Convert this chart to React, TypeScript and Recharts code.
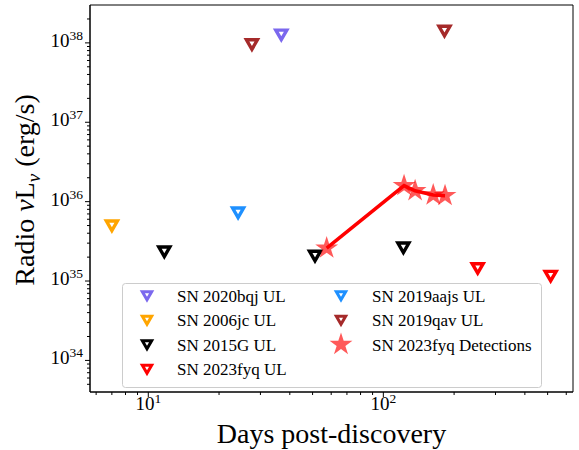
import { ScatterChart, Scatter, XAxis, YAxis, ReferenceArea, Legend } from 'recharts'

// days post-discovery / radio luminosity (erg/s)
const days2020bqj = [36.8]
const lum2020bqj = [1.27e38]
const days2006jc = [7.0]
const lum2006jc = [5.0e35]
const days2015G = [11.7, 51.2, 121.7]
const lum2015G = [2.35e35, 2.08e35, 2.64e35]
const days2023fyqUL = [252, 515]
const lum2023fyqUL = [1.45e35, 1.16e35]
const days2019aajs = [24.1]
const lum2019aajs = [7.3e35]
const days2019qav = [27.6, 182]
const lum2019qav = [9.6e37, 1.42e38]
const daysDet = [57.4, 122.5, 136.5, 163, 183]
const lumDet = [2.6e35, 1.59e36, 1.37e36, 1.21e36, 1.19e36]

const X_DOMAIN = [5.65, 641]
const Y_DOMAIN = [4.0e33, 3.0e38]

const xTicks = [6, 7, 8, 9, 10, 20, 30, 40, 50, 60, 70, 80, 90, 100, 200, 300, 400, 500, 600]
const yTicks = [
  5e33, 6e33, 7e33, 8e33, 9e33, 1e34,
  2e34, 3e34, 4e34, 5e34, 6e34, 7e34, 8e34, 9e34, 1e35,
  2e35, 3e35, 4e35, 5e35, 6e35, 7e35, 8e35, 9e35, 1e36,
  2e36, 3e36, 4e36, 5e36, 6e36, 7e36, 8e36, 9e36, 1e37,
  2e37, 3e37, 4e37, 5e37, 6e37, 7e37, 8e37, 9e37, 1e38,
  2e38,
]

const zip = (xs: number[], ys: number[]) => xs.map((x, i) => ({ x, y: ys[i] }))

const SERIES = [
  { name: 'SN 2020bqj UL', color: '#7B68EE', data: zip(days2020bqj, lum2020bqj) },
  { name: 'SN 2006jc UL', color: '#FFA500', data: zip(days2006jc, lum2006jc) },
  { name: 'SN 2015G UL', color: '#000000', data: zip(days2015G, lum2015G) },
  { name: 'SN 2023fyq UL', color: '#FF0000', data: zip(days2023fyqUL, lum2023fyqUL) },
  { name: 'SN 2019aajs UL', color: '#1E90FF', data: zip(days2019aajs, lum2019aajs) },
  { name: 'SN 2019qav UL', color: '#A52A2A', data: zip(days2019qav, lum2019qav) },
]
const detections = zip(daysDet, lumDet)

const FONT = '"Liberation Serif", "DejaVu Serif", serif'

const isMajor = (v: number) => {
  const l = Math.log10(v)
  return Math.abs(l - Math.round(l)) < 1e-6
}

const triPath = (cx: number, cy: number, s = 1) =>
  `M${cx - 5.5 * s},${cy - 4.5 * s} L${cx + 5.5 * s},${cy - 4.5 * s} L${cx},${cy + 5 * s} Z`

const starPath = (cx: number, cy: number, r: number) => {
  const inner = r * 0.381966
  let d = ''
  for (let i = 0; i < 10; i++) {
    const rad = i % 2 === 0 ? r : inner
    const a = -Math.PI / 2 + (i * Math.PI) / 5
    d += `${i === 0 ? 'M' : 'L'}${cx + rad * Math.cos(a)},${cy + rad * Math.sin(a)} `
  }
  return d + 'Z'
}

const triangle = (color: string) => (props: any) => {
  const { cx, cy } = props
  return <path d={triPath(cx, cy)} fill="none" stroke={color} strokeWidth={3.4} strokeLinejoin="miter" />
}

const star = (props: any) => {
  const { cx, cy } = props
  return <path d={starPath(cx, cy, 12)} fill="#FF0000" fillOpacity={0.65} />
}

const XTick = (props: any) => {
  const { x, y, payload } = props
  const major = isMajor(payload.value)
  return (
    <g>
      <line x1={x} x2={x} y1={y} y2={y + (major ? 5 : 3)} stroke="#000" strokeWidth={1} />
      {major && (
        <text x={x} y={y + 18} textAnchor="middle" fontFamily={FONT} fontSize={19} fill="#000">
          10<tspan dy={-7} fontSize={13.5}>{Math.round(Math.log10(payload.value))}</tspan>
        </text>
      )}
    </g>
  )
}

const YTick = (props: any) => {
  const { x, y, payload } = props
  const major = isMajor(payload.value)
  return (
    <g>
      <line x1={x - (major ? 5 : 3)} x2={x} y1={y} y2={y} stroke="#000" strokeWidth={1} />
      {major && (
        <text x={x - 7} y={y + 4} textAnchor="end" fontFamily={FONT} fontSize={19} fill="#000">
          10<tspan dy={-7} fontSize={13.5}>{Math.round(Math.log10(payload.value))}</tspan>
        </text>
      )}
    </g>
  )
}

const LegendBox = () => {
  const col1 = SERIES.slice(0, 4)
  const col2 = SERIES.slice(4)
  const row = (i: number) => 12.5 + i * 24.5
  return (
    <svg width={420} height={105} style={{ overflow: 'visible' }}>
      <rect x={0.5} y={0.5} width={419} height={104} rx={3} fill="#fff" fillOpacity={0.8} stroke="#ccc" />
      {col1.map((s, i) => (
        <g key={s.name}>
          <path d={triPath(25, row(i), 0.85)} fill="none" stroke={s.color} strokeWidth={3} />
          <text x={55} y={row(i) + 6} fontFamily={FONT} fontSize={17} fill="#000">{s.name}</text>
        </g>
      ))}
      {col2.map((s, i) => (
        <g key={s.name}>
          <path d={triPath(219, row(i), 0.85)} fill="none" stroke={s.color} strokeWidth={3} />
          <text x={250} y={row(i) + 6} fontFamily={FONT} fontSize={17} fill="#000">{s.name}</text>
        </g>
      ))}
      <path d={starPath(219, row(2), 12)} fill="#FF0000" fillOpacity={0.65} />
      <text x={250} y={row(2) + 6} fontFamily={FONT} fontSize={17} fill="#000">SN 2023fyq Detections</text>
    </svg>
  )
}

export default function App() {
  return (
    <div style={{ position: 'absolute', left: 0, top: 0, background: '#fff' }}>
      <ScatterChart width={579} height={450} margin={{ top: 5, right: 6, left: 0, bottom: 0 }}>
        <XAxis
          type="number"
          dataKey="x"
          scale="log"
          domain={X_DOMAIN}
          allowDataOverflow
          ticks={xTicks}
          interval={0}
          tickSize={0}
          tickMargin={0}
          tick={XTick}
          axisLine={{ stroke: '#000' }}
          height={58}
          label={{
            content: () => (
              <text x={331.5} y={443} textAnchor="middle" fontFamily={FONT} fontSize={28} fill="#000">
                Days post-discovery
              </text>
            ),
          }}
        />
        <YAxis
          type="number"
          dataKey="y"
          scale="log"
          domain={Y_DOMAIN}
          allowDataOverflow
          ticks={yTicks}
          interval={0}
          tickSize={0}
          tickMargin={0}
          tick={YTick}
          axisLine={{ stroke: '#000' }}
          width={90}
          label={{
            content: () => (
              <text
                x={34}
                y={190}
                transform="rotate(-90 34 190)"
                textAnchor="middle"
                fontFamily={FONT}
                fontSize={28}
                fill="#000"
              >
                Radio <tspan fontStyle="italic">ν</tspan>L<tspan dy={6} fontSize={19} fontStyle="italic">ν</tspan>
                <tspan dy={-6}> (erg/s)</tspan>
              </text>
            ),
          }}
        />
        <ReferenceArea
          x1={X_DOMAIN[0]}
          x2={X_DOMAIN[1]}
          y1={Y_DOMAIN[0]}
          y2={Y_DOMAIN[1]}
          fill="none"
          stroke="#000"
          strokeWidth={1}
          ifOverflow="visible"
        />
        {SERIES.map((s) => (
          <Scatter key={s.name} name={s.name} data={s.data} shape={triangle(s.color)} isAnimationActive={false} />
        ))}
        <Scatter name="SN 2023fyq Detections" data={detections} shape={star} isAnimationActive={false} />
        <Scatter
          name="det-line"
          data={detections}
          shape={() => <g />}
          line={{ stroke: '#FF0000', strokeWidth: 3.5 }}
          isAnimationActive={false}
        />
        <Legend
          layout="horizontal"
          verticalAlign="middle"
          align="center"
          content={LegendBox}
          wrapperStyle={{ position: 'absolute', left: 122, top: 283, width: 420, height: 105 }}
        />
      </ScatterChart>
    </div>
  )
}
